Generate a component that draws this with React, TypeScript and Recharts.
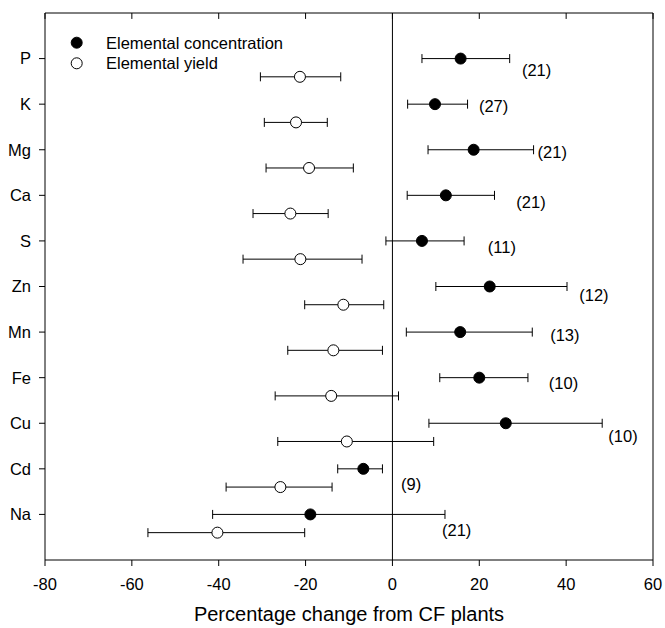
import React from 'react';
import {
  ComposedChart,
  Scatter,
  XAxis,
  YAxis,
  ErrorBar,
  ReferenceLine,
  Legend,
} from 'recharts';

const elements = ['P', 'K', 'Mg', 'Ca', 'S', 'Zn', 'Mn', 'Fe', 'Cu', 'Cd', 'Na'];
const concMean = [15.7, 9.8, 18.7, 12.3, 6.8, 22.4, 15.6, 20.0, 26.1, -6.7, -18.9];
const concLow = [6.8, 3.5, 8.2, 3.4, -1.5, 10.0, 3.2, 10.9, 8.4, -12.6, -41.4];
const concHigh = [27.0, 17.3, 32.5, 23.5, 16.5, 40.2, 32.2, 31.2, 48.3, -2.3, 12.1];
const yieldMean = [-21.3, -22.2, -19.2, -23.5, -21.2, -11.3, -13.6, -14.1, -10.5, -25.8, -40.3];
const yieldLow = [-30.4, -29.5, -29.1, -32.1, -34.4, -20.2, -24.1, -27.0, -26.4, -38.3, -56.3];
const yieldHigh = [-11.9, -15.0, -9.0, -14.8, -7.0, -2.0, -2.3, 1.4, 9.5, -13.9, -20.2];
const sampleN = ['(21)', '(27)', '(21)', '(21)', '(11)', '(12)', '(13)', '(10)', '(10)', '(9)', '(21)'];
const nLabelX = [33.2, 23.3, 36.8, 31.9, 25.2, 46.4, 39.7, 39.4, 53.1, 4.3, 14.8];
const nLabelOffset = [0.24, 0.04, 0.06, 0.14, 0.14, 0.18, 0.07, 0.12, 0.28, 0.33, 0.34];
const yieldRowOffset = 0.4;
const xTicks = [-80, -60, -40, -20, 0, 20, 40, 60];
const yTicks = elements.map((_, i) => i);
const Y_MIN = -1;
const Y_MAX = 11;
const TOP_TICK_LEN = 0.13; // inward top tick length in y units

const concData = elements.map((el, i) => ({
  name: el,
  x: concMean[i],
  y: i,
  err: [concMean[i] - concLow[i], concHigh[i] - concMean[i]],
}));
const yieldData = elements.map((el, i) => ({
  name: el,
  x: yieldMean[i],
  y: i + yieldRowOffset,
  err: [yieldMean[i] - yieldLow[i], yieldHigh[i] - yieldMean[i]],
}));
const labelData = elements.map((el, i) => ({
  name: el,
  x: nLabelX[i],
  y: i + nLabelOffset[i],
  n: sampleN[i],
}));

const FONT = '"Liberation Sans", Arial, sans-serif';

const FilledDot = (p: any) => (
  <circle cx={p.cx} cy={p.cy} r={5.5} fill="#000" stroke="#000" strokeWidth={1} />
);
const OpenDot = (p: any) => (
  <circle cx={p.cx} cy={p.cy} r={5.5} fill="#fff" stroke="#000" strokeWidth={1} />
);
const NLabel = (p: any) => {
  const n = (p.payload && p.payload.n) || p.n;
  return (
    <text
      x={p.cx}
      y={p.cy}
      textAnchor="middle"
      dominantBaseline="central"
      fontSize={16.5}
      fontFamily={FONT}
      fill="#000"
    >
      {n}
    </text>
  );
};

const LegendContent = () => (
  <svg width={260} height={50} style={{ display: 'block' }}>
    <circle cx={10.7} cy={12.7} r={5.5} fill="#000" stroke="#000" />
    <circle cx={10.7} cy={33.3} r={5.5} fill="#fff" stroke="#000" />
    <text x={40} y={12.7} dominantBaseline="central" fontSize={16.5} fontFamily={FONT} fill="#000">
      Elemental concentration
    </text>
    <text x={40} y={33.3} dominantBaseline="central" fontSize={16.5} fontFamily={FONT} fill="#000">
      Elemental yield
    </text>
  </svg>
);

export default function App() {
  return (
    <div style={{ position: 'absolute', left: 0, top: 0, background: '#fff' }}>
      <ComposedChart
        width={665}
        height={628}
        margin={{ top: 13, right: 12, left: 0, bottom: 0 }}
        style={{ fontFamily: FONT }}
      >
        <XAxis
          type="number"
          dataKey="x"
          domain={[-80, 60]}
          ticks={xTicks}
          interval={0}
          height={68}
          tickSize={6}
          tickMargin={12}
          stroke="#000"
          tick={{ fill: '#000', fontSize: 16.5, fontFamily: FONT }}
          label={{
            value: 'Percentage change from CF plants',
            position: 'insideBottom',
            offset: 7,
            fill: '#000',
            fontSize: 20,
            fontFamily: FONT,
          }}
        />
        <YAxis
          type="number"
          dataKey="y"
          domain={[Y_MIN, Y_MAX]}
          reversed
          ticks={yTicks}
          interval={0}
          width={45}
          tickSize={6}
          tickMargin={8}
          stroke="#000"
          tickFormatter={(v: number) => elements[v] ?? ''}
          tick={{ fill: '#000', fontSize: 16.5, fontFamily: FONT }}
        />
        <ReferenceLine x={0} stroke="#000" strokeWidth={1} />
        <ReferenceLine x={60} stroke="#000" strokeWidth={1} />
        <ReferenceLine y={Y_MIN} stroke="#000" strokeWidth={1} />
        {xTicks.map((t) => (
          <ReferenceLine
            key={`tt${t}`}
            segment={[
              { x: t, y: Y_MIN },
              { x: t, y: Y_MIN + TOP_TICK_LEN },
            ]}
            stroke="#000"
            strokeWidth={1}
          />
        ))}
        <Legend
          layout="vertical"
          verticalAlign="middle"
          align="center"
          content={LegendContent}
          wrapperStyle={{ position: 'absolute', left: 66, top: 30, width: 260, height: 50 }}
        />
        <Scatter
          name="Elemental concentration"
          data={concData}
          shape={FilledDot}
          isAnimationActive={false}
        >
          <ErrorBar dataKey="err" direction="x" width={4.5} stroke="#000" strokeWidth={1} />
        </Scatter>
        <Scatter
          name="Elemental yield"
          data={yieldData}
          shape={OpenDot}
          isAnimationActive={false}
        >
          <ErrorBar dataKey="err" direction="x" width={4.5} stroke="#000" strokeWidth={1} />
        </Scatter>
        <Scatter
          name="n"
          data={labelData}
          shape={NLabel}
          legendType="none"
          isAnimationActive={false}
        />
      </ComposedChart>
    </div>
  );
}
